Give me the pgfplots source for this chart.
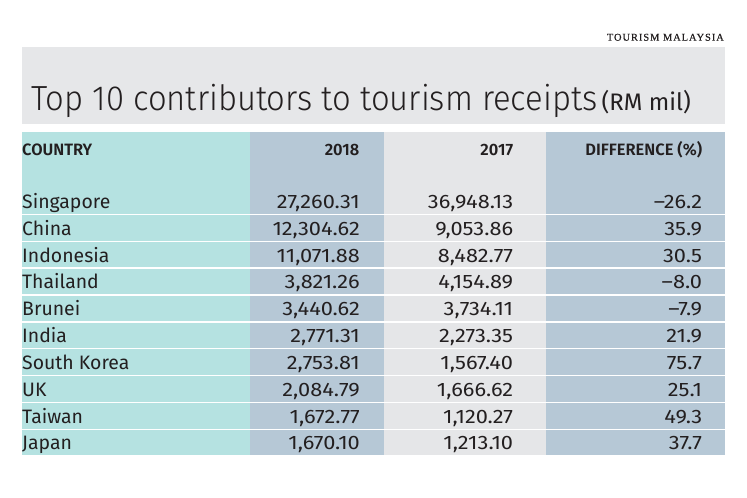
\documentclass[border=0pt]{standalone}
\usepackage{pgfplots}
\pgfplotsset{compat=1.18}
\usepackage{pgfplotstable}
\usepackage{fontspec}
\setmainfont{Fira Sans}
\newfontfamily\numfont[FakeStretch=1.12]{Fira Sans}
\newfontfamily\titlefont[FakeStretch=0.94]{Fira Sans Light}
\newfontfamily\headfont{Fira Sans SemiBold}
\newfontfamily\srcfont[LetterSpace=9,FakeBold=0.6]{Liberation Serif}
\definecolor{colTeal}{HTML}{B5E2E1}
\definecolor{colBlue}{HTML}{B6C8D6}
\definecolor{colGray}{HTML}{E5E6E8}
\definecolor{colBand}{HTML}{E6E7E9}
\definecolor{txt}{HTML}{231F20}

\pgfplotstableread{
country base y2018 y2017 diff
Singapore 208.3 27,260.31 36,948.13 –26.2
China 235.1 12,304.62 9,053.86 35.9
Indonesia 262.0 11,071.88 8,482.77 30.5
Thailand 288.8 3,821.26 4,154.89 –8.0
Brunei 315.7 3,440.62 3,734.11 –7.9
India 342.5 2,771.31 2,273.35 21.9
{South Korea} 369.4 2,753.81 1,567.40 75.7
UK 396.2 2,084.79 1,666.62 25.1
Taiwan 423.1 1,672.77 1,120.27 49.3
Japan 449.9 1,670.10 1,213.10 37.7
}\datatable

\begin{document}
\begin{tikzpicture}
\begin{axis}[
  scale only axis, width=747bp, height=498bp,
  xmin=0, xmax=747, ymin=0, ymax=498, y dir=reverse,
  hide axis, clip=false,
  cell/.style 2 args={draw=none, mark=none, nodes near coords, point meta=explicit symbolic,
    nodes near coords style={anchor=#1, inner sep=0pt, text=txt, font=#2\fontsize{19.5}{20}\selectfont}},
]
% invisible frame for page size
\path (axis cs:0,0) rectangle (axis cs:747,498);
% title band
\fill[colBand] (axis cs:22,46.7) rectangle (axis cs:725,124);
% column backgrounds
\fill[colTeal] (axis cs:22,132.3) rectangle (axis cs:250,455);
\fill[colBlue] (axis cs:250,132.3) rectangle (axis cs:384,455);
\fill[colGray] (axis cs:384,132.3) rectangle (axis cs:546,455);
\fill[colBlue] (axis cs:546,132.3) rectangle (axis cs:725,455);
% row separators
\foreach \yy in {214.5,241.3,268.2,295.0,321.9,348.7,375.6,402.4,429.3}{
  \edef\tmp{\noexpand\draw[white, line width=1.5bp] (axis cs:22,\yy) -- (axis cs:725,\yy);}\tmp
}
% source and title
\node[anchor=base east, inner sep=0pt, text=txt, font=\srcfont\fontsize{10.5}{11}\selectfont] at (axis cs:724,40.7) {TOURISM MALAYSIA};
\node[anchor=base west, inner sep=0pt, text=txt] at (axis cs:31,110.7)
  {{\titlefont\fontsize{35}{36}\selectfont Top 10 contributors to tourism receipts}\hspace{4bp}{\fontsize{24}{25}\selectfont(RM mil)}};
% headers
\node[anchor=base west, inner sep=0pt, text=txt, font=\headfont\fontsize{16.5}{17}\selectfont] at (axis cs:22,155.7) {COUNTRY};
\node[anchor=base east, inner sep=0pt, text=txt, font=\headfont\fontsize{16.5}{17}\selectfont] at (axis cs:359.5,155.7) {2018};
\node[anchor=base east, inner sep=0pt, text=txt, font=\headfont\fontsize{16.5}{17}\selectfont] at (axis cs:513.3,155.7) {2017};
\node[anchor=base east, inner sep=0pt, text=txt, font=\headfont\fontsize{16.5}{17}\selectfont] at (axis cs:702.3,155.7) {DIFFERENCE (\%)};
% data cells
\addplot[cell={base west}{\rmfamily}] table[x expr=22, y=base, meta=country] {\datatable};
\addplot[cell={base east}{\numfont}] table[x expr=360, y=base, meta=y2018] {\datatable};
\addplot[cell={base east}{\numfont}] table[x expr=513.3, y=base, meta=y2017] {\datatable};
\addplot[cell={base east}{\numfont}] table[x expr=702.3, y=base, meta=diff] {\datatable};
\end{axis}
\end{tikzpicture}
\end{document}
